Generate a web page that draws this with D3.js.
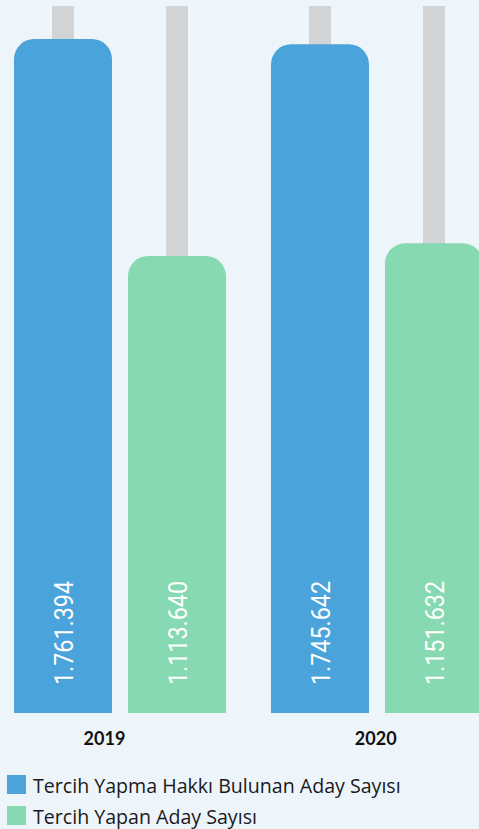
<!DOCTYPE html>
<html><head><meta charset="utf-8">
<script src="https://cdn.jsdelivr.net/npm/d3@7"></script>
<style>
html,body{margin:0;padding:0;background:#edf5fb;}
svg{display:block;}
</style></head>
<body>
<svg id="c" width="479" height="829"></svg>
<script>
const years = ["2019", "2020"];
const series = ["Tercih Yapma Hakkı Bulunan Aday Sayısı", "Tercih Yapan Aday Sayısı"];
const eligible = [1761394, 1745642];
const applied = [1113640, 1151632];
const valueLabels = [["1.761.394", "1.113.640"], ["1.745.642", "1.151.632"]];
const colors = ["#4aa3da", "#86d9b0"];

(function () {
const W = 479, H = 829;
const svg = d3.select("#c");
svg.append("rect").attr("width", W).attr("height", H).attr("fill", "#edf5fb");

const yBase = 713, yTopPx = 6;
const y = d3.scaleLinear().domain([-250000, 1860000]).range([yBase, yTopPx]);
const x0 = d3.scaleBand().domain(years).range([14, 483]).paddingInner(45 / 257).paddingOuter(0);
const x1 = d3.scaleBand().domain(series).range([0, x0.bandwidth()]).paddingInner(16 / 114).paddingOuter(0);
const xl = d3.scalePoint().domain(years).range([104.5, 375.7]);

const data = [];
years.forEach((yr, i) => {
  [eligible[i], applied[i]].forEach((v, j) => {
    data.push({ year: yr, s: series[j], v, label: valueLabels[i][j], color: colors[j] });
  });
});

const r = 20;
function roundPath(x, yT, w, yb) {
  return `M${x},${yb}V${yT + r}A${r},${r} 0 0 1 ${x + r},${yT}H${x + w - r}A${r},${r} 0 0 1 ${x + w},${yT + r}V${yb}Z`;
}

const tw = x1.bandwidth() * 0.2245;
const g = svg.append("g");
g.selectAll("rect.track").data(data).join("rect")
  .attr("class", "track")
  .attr("x", d => x0(d.year) + x1(d.s) + x1.bandwidth() / 2 - tw / 2)
  .attr("y", y.range()[1])
  .attr("width", tw)
  .attr("height", y.range()[0] - y.range()[1])
  .attr("fill", "#d2d3d5");
g.selectAll("path.bar").data(data).join("path")
  .attr("class", "bar")
  .attr("d", d => roundPath(x0(d.year) + x1(d.s), y(d.v), x1.bandwidth(), y(y.domain()[0])))
  .attr("fill", d => d.color);
g.selectAll("text.val").data(data).join("text")
  .attr("class", "val")
  .attr("transform", d => `translate(${x0(d.year) + x1(d.s) + x1.bandwidth() / 2},${y(y.domain()[0]) - 28}) rotate(-90) scale(0.88,1)`)
  .attr("dy", "0.36em")
  .attr("text-anchor", "start")
  .attr("fill", "#ffffff")
  .attr("font-family", "Roboto, sans-serif")
  .attr("font-size", 26.5)
  .text(d => d.label);
svg.selectAll("text.yr").data(years).join("text")
  .attr("class", "yr")
  .attr("x", d => xl(d))
  .attr("y", 745)
  .attr("text-anchor", "middle")
  .attr("font-family", "Lato, sans-serif")
  .attr("font-weight", 700)
  .attr("font-size", 18)
  .attr("fill", "#111")
  .text(d => d);
const lg = svg.append("g").selectAll("g").data(series).join("g")
  .attr("transform", (d, i) => `translate(7,${775 + i * 31})`);
lg.append("rect").attr("width", 19).attr("height", 19).attr("fill", (d, i) => colors[i]);
lg.append("text").attr("x", 26).attr("y", 18)
  .attr("font-family", "'Open Sans', sans-serif")
  .attr("font-size", 19.6)
  .attr("fill", "#1a1a1a")
  .text(d => d);
})();
</script>
</body></html>
